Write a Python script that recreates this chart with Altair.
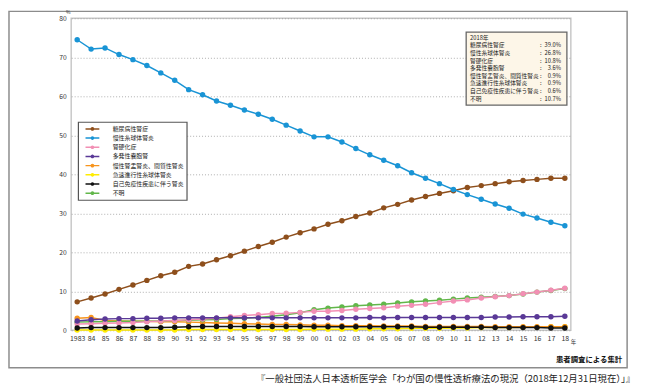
import altair as alt
import pandas as pd

FONT = "Noto Sans CJK JP"

years = list(range(1983, 2019))

series_names = [
    "糖尿病性腎症",
    "慢性糸球体腎炎",
    "腎硬化症",
    "多発性嚢胞腎",
    "慢性腎盂腎炎、間質性腎炎",
    "急速進行性糸球体腎炎",
    "自己免疫性疾患に伴う腎炎",
    "不明",
]
series_colors = ["#8e4f1c", "#1994d5", "#f28fb4", "#5a3997", "#f7941d", "#ffec00", "#111111", "#62b74a"]

diabetic = [7.3, 8.3, 9.3, 10.5, 11.6, 12.8, 14.0, 14.9, 16.4, 17.0, 18.1, 19.1, 20.3, 21.5, 22.6, 23.9, 25.0, 26.0,
            27.2, 28.1, 29.2, 30.1, 31.4, 32.3, 33.4, 34.3, 35.1, 35.8, 36.6, 37.1, 37.6, 38.1, 38.4, 38.7, 39.0, 39.0]
glomerulo = [74.5, 72.1, 72.4, 70.7, 69.4, 67.9, 66.0, 64.1, 61.7, 60.4, 58.8, 57.7, 56.5, 55.4, 54.1, 52.6, 51.1, 49.6,
             49.6, 48.3, 46.6, 45.0, 43.6, 42.2, 40.4, 39.0, 37.6, 36.1, 34.8, 33.6, 32.4, 31.3, 29.8, 28.8, 27.7, 26.8]
sclerosis = [1.6, 1.7, 1.8, 1.9, 2.0, 2.2, 2.4, 2.5, 2.7, 2.9, 3.1, 3.5, 3.8, 4.0, 4.3, 4.4, 4.6, 4.9,
             4.9, 5.1, 5.4, 5.6, 5.8, 6.2, 6.4, 6.7, 7.1, 7.5, 7.8, 8.3, 8.6, 8.9, 9.4, 9.8, 10.3, 10.8]
polycystic = [2.4, 2.7, 2.9, 3.0, 3.0, 3.1, 3.1, 3.2, 3.2, 3.2, 3.2, 3.2, 3.2, 3.2, 3.2, 3.2, 3.2, 3.2,
              3.2, 3.2, 3.2, 3.3, 3.2, 3.3, 3.3, 3.3, 3.3, 3.3, 3.3, 3.3, 3.4, 3.4, 3.5, 3.5, 3.5, 3.6]
pyelo = [3.1, 3.3, 2.5, 2.4, 2.3, 2.3, 2.2, 2.2, 2.1, 2.0, 1.9, 1.8, 1.7, 1.6, 1.5, 1.5, 1.4, 1.3,
         1.3, 1.2, 1.2, 1.2, 1.1, 1.1, 1.1, 1.0, 1.0, 1.0, 1.0, 1.0, 0.9, 0.9, 0.9, 0.9, 0.9, 0.9]
rpgn = [0.1, 0.1, 0.1, 0.1, 0.1, 0.1, 0.1, 0.1, 0.2, 0.2, 0.2, 0.2, 0.2, 0.2, 0.2, 0.2, 0.2, 0.3,
        0.3, 0.3, 0.3, 0.4, 0.4, 0.4, 0.5, 0.5, 0.5, 0.6, 0.6, 0.7, 0.7, 0.7, 0.8, 0.8, 0.9, 0.9]
autoimmune = [0.6, 0.7, 0.7, 0.7, 0.7, 0.7, 0.7, 0.8, 0.9, 1.0, 1.0, 1.0, 1.0, 1.0, 1.0, 1.0, 1.0, 0.9,
              0.9, 0.9, 0.9, 0.9, 0.9, 0.9, 0.9, 0.8, 0.8, 0.8, 0.8, 0.8, 0.7, 0.7, 0.7, 0.7, 0.6, 0.6]
unknown = [2.1, 2.2, 2.2, 2.3, 2.3, 2.3, 2.4, 2.5, 2.6, 2.7, 2.8, 3.0, 3.1, 3.3, 3.6, 4.0, 4.5, 5.3,
           5.7, 6.0, 6.3, 6.5, 6.7, 7.0, 7.3, 7.5, 7.7, 8.0, 8.3, 8.5, 8.7, 8.9, 9.3, 9.8, 10.2, 10.7]

series_values = [diabetic, glomerulo, sclerosis, polycystic, pyelo, rpgn, autoimmune, unknown]
draw_order = [5, 4, 7, 2, 3, 6, 0, 1]

box_title = "2018年"
box_values = ["39.0%", "26.8%", "10.8%", "3.6%", "0.9%", "0.9%", "0.6%", "10.7%"]

note_text = "患者調査による集計"
caption_text = "『一般社団法人日本透析医学会「わが国の慢性透析療法の現況（2018年12月31日現在）」』"

rows = []
for name, vals in zip(series_names, series_values):
    for yr, v in zip(years, vals):
        rows.append({"series": name, "year": yr, "pct": v})
df = pd.DataFrame(rows)

x_enc = alt.X(
    "year:Q",
    scale=alt.Scale(domain=[1982.57, 2018.43], nice=False, zero=False),
    axis=alt.Axis(
        values=years,
        labelExpr="datum.value == 1983 ? '1983' : slice(format(datum.value, 'd'), 2)",
        title=None, grid=False, ticks=False, domain=False,
        labelPadding=4, labelFontSize=7, labelColor="#333333",
        labelFlush=False, labelOverlap=False,
    ),
)
y_enc = alt.Y(
    "pct:Q",
    scale=alt.Scale(domain=[0, 80], nice=False),
    axis=alt.Axis(
        values=list(range(0, 81, 10)),
        title=None, grid=True, gridDash=[1, 2], gridColor="#9a9a9a", gridWidth=0.8,
        ticks=False, domain=False,
        labelPadding=5, labelFontSize=6.8, labelColor="#333333",
    ),
)

symbol_path = "M-2,0L2,0M-0.32,0A0.32,0.32 0 1 0 0.32,0A0.32,0.32 0 1 0 -0.32,0Z"
legend_def = alt.Legend(
    title=None, orient="none", legendX=7, legendY=105,
    symbolType=symbol_path, symbolSize=49, symbolStrokeWidth=1.5,
    labelFontSize=6, labelFont=FONT, labelColor="#222222", labelLimit=0,
    fillColor="white", strokeColor="#555555", padding=2.5, rowPadding=0.3,
    labelOffset=16, symbolOffset=7.5,
)
stroke_scale = alt.Scale(domain=series_names, range=series_colors)
fill_scale = alt.Scale(domain=series_names, range=series_colors)

base = alt.Chart(df)

layers = []
one = alt.Data(values=[{}])

# outer frame
layers.append(
    alt.Chart(one).mark_rect(fill="transparent", stroke="#8c8c8c", strokeWidth=1.5).encode(
        x=alt.value(-63), x2=alt.value(563), y=alt.value(-7), y2=alt.value(354)
    )
)

for i in draw_order:
    name = series_names[i]
    sub = base.transform_filter(alt.datum.series == name)
    layers.append(
        sub.mark_line(strokeWidth=1.5).encode(
            x=x_enc, y=y_enc,
            stroke=alt.Stroke("series:N", scale=stroke_scale, legend=legend_def),
        )
    )
    layers.append(
        sub.mark_circle(size=30, opacity=1).encode(
            x=x_enc, y=y_enc,
            fill=alt.Fill("series:N", scale=fill_scale, legend=legend_def),
        )
    )

# info box
layers.append(
    alt.Chart(one).mark_rect(fill="#fdf6e8", stroke="#666666", strokeWidth=1.3).encode(
        x=alt.value(400), x2=alt.value(502), y=alt.value(14), y2=alt.value(88)
    )
)
info_df = pd.DataFrame({
    "label": [box_title] + series_names,
    "val": [""] + box_values,
    "colon": [""] + [":"] * len(box_values),
    "row": list(range(len(series_names) + 1)),
})
info = alt.Chart(info_df).transform_calculate(py="19.7 + 7.7 * datum.row")
layers.append(
    info.mark_text(align="left", baseline="middle", fontSize=5.8, font=FONT, color="#222222").encode(
        x=alt.value(404), y=alt.Y("py:Q", scale=None, axis=None), text="label:N"
    )
)
layers.append(
    info.mark_text(align="center", baseline="middle", fontSize=5.8, font=FONT, color="#222222").encode(
        x=alt.value(475.5), y=alt.Y("py:Q", scale=None, axis=None), text="colon:N"
    )
)
layers.append(
    info.mark_text(align="right", baseline="middle", fontSize=5.8, font=FONT, color="#222222").encode(
        x=alt.value(496), y=alt.Y("py:Q", scale=None, axis=None), text="val:N"
    )
)

# annotations
layers.append(
    alt.Chart(one).mark_text(text="%", fontSize=5, font=FONT, color="#333333", align="center", baseline="top").encode(
        x=alt.value(-3), y=alt.value(-8)
    )
)
layers.append(
    alt.Chart(one).mark_text(text="年", fontSize=5.5, font=FONT, color="#333333", align="left", baseline="middle").encode(
        x=alt.value(506), y=alt.value(328)
    )
)
layers.append(
    alt.Chart(one).mark_text(text=note_text, fontSize=7.5, fontWeight="bold", font=FONT, color="#111111",
                             align="right", baseline="middle").encode(
        x=alt.value(558), y=alt.value(346)
    )
)
layers.append(
    alt.Chart(one).mark_text(text=caption_text, fontSize=9.5, font=FONT, color="#222222",
                             align="right", baseline="middle").encode(
        x=alt.value(571), y=alt.value(365)
    )
)

chart = alt.layer(*layers).properties(
    width=506, height=316,
    autosize=alt.AutoSizeParams(type="none"),
    padding={"left": 64, "top": 8, "right": 67, "bottom": 57},
    background="white",
).configure(font=FONT).configure_view(
    stroke="#c8c8c8", strokeWidth=1.5
).configure_legend(strokeWidth=1.2)

chart.save("out.html", embed_options={"renderer": "svg", "actions": False})
